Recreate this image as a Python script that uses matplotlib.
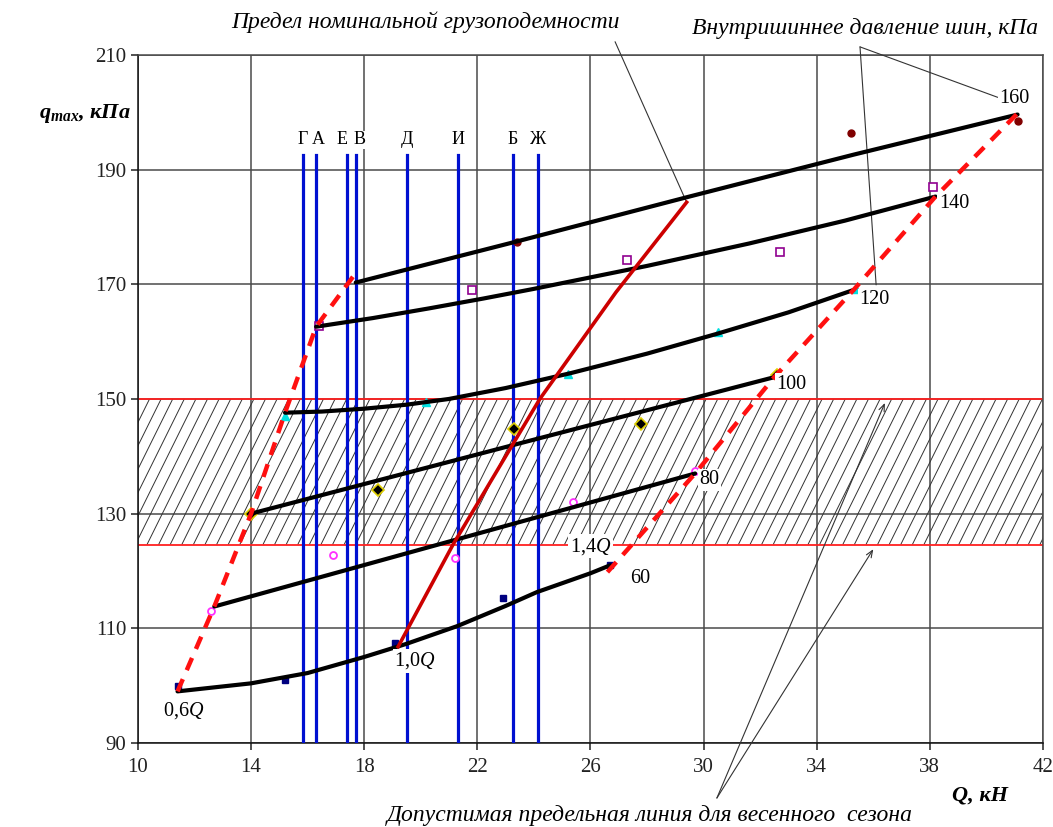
import numpy as np
import matplotlib
matplotlib.use("Agg")
import matplotlib.pyplot as plt
from matplotlib.collections import LineCollection
from matplotlib.patches import Rectangle

plt.rcParams["font.family"] = ["Liberation Serif", "DejaVu Serif"]
plt.rcParams["mathtext.fontset"] = "custom"
plt.rcParams["mathtext.rm"] = "Liberation Serif"
plt.rcParams["mathtext.it"] = "Liberation Serif:italic"
plt.rcParams["mathtext.bfit"] = "Liberation Serif:italic:bold"

# tire pressure curves, kPa -> (Q, q_max)
curve_60_x = [11.4, 14.0, 16.0, 18.0, 19.5, 21.3, 23.0, 24.1, 26.0, 26.7]
curve_60_y = [99.0, 100.4, 102.2, 105.0, 107.3, 110.4, 113.9, 116.3, 119.6, 121.0]
curve_80_x = [12.7, 21.2, 29.7]
curve_80_y = [113.8, 125.4, 137.0]
curve_100_x = [14.0, 23.3, 32.5]
curve_100_y = [130.0, 142.0, 153.8]
curve_120_x = [15.2, 16.5, 18.0, 19.5, 21.0, 23.0, 25.3, 28.0, 30.5, 33.0, 35.3]
curve_120_y = [147.6, 147.8, 148.3, 149.0, 150.0, 151.9, 154.5, 157.9, 161.4, 165.1, 169.0]
curve_140_x = [16.3, 18.3, 20.3, 22.2, 24.0, 26.0, 28.0, 31.6, 35.0, 38.2]
curve_140_y = [162.6, 164.1, 165.8, 167.5, 169.2, 171.2, 173.2, 177.1, 181.1, 185.3]
curve_160_x = [17.7, 23.5, 29.5, 35.3, 41.1]
curve_160_y = [170.3, 177.6, 185.3, 192.6, 199.6]

# measured points
pts_60_x = [11.4, 15.2, 19.1, 22.9, 26.7]
pts_60_y = [99.9, 101.0, 107.5, 115.2, 121.0]
pts_80_x = [12.6, 16.9, 21.2, 25.4, 29.7]
pts_80_y = [113.0, 122.8, 122.2, 132.0, 137.4]
pts_100_x = [14.0, 18.5, 23.3, 27.8, 32.6]
pts_100_y = [130.0, 134.2, 144.8, 145.6, 154.2]
pts_120_x = [15.2, 20.2, 25.2, 30.5, 35.4]
pts_120_y = [147.0, 149.4, 154.4, 161.6, 169.2]
pts_140_x = [16.4, 21.8, 27.3, 32.7, 38.1]
pts_140_y = [162.8, 169.0, 174.3, 175.6, 186.9]
pts_160_x = [23.4, 35.2, 41.1]
pts_160_y = [177.3, 196.3, 198.4]

# load limits
limit_06_x = [11.4, 12.7, 14.0, 15.2, 16.3, 17.6]
limit_06_y = [99.0, 113.8, 130.0, 147.6, 162.6, 171.3]
limit_14_x = [26.6, 29.7, 32.5, 35.3, 38.2, 41.1]
limit_14_y = [119.8, 137.0, 153.8, 169.0, 185.3, 199.8]
limit_10_x = [19.2, 21.14, 24.21, 26.9, 29.4]
limit_10_y = [106.8, 124.6, 150.0, 168.6, 184.3]

# spring season band
band_low = 124.6
band_high = 150.0

# vehicles
veh_x = [15.83, 16.29, 17.39, 17.70, 19.51, 21.32, 23.26, 24.14]
veh_labels = ["Г", "А", "Е", "В", "Д", "И", "Б", "Ж"]
veh_label_shift = [0.0, 0.1, -0.17, 0.14, 0.0, 0.0, 0.0, 0.0]
veh_top = 192.5

pressure_labels = ["60", "80", "100", "120", "140", "160"]
pressure_pos = [(27.75, 118.6), (30.2, 135.9), (33.1, 152.6), (36.05, 167.3), (38.85, 184.1), (41.0, 202.4)]

fig = plt.figure(figsize=(10.53, 8.27), dpi=100)
ax = fig.add_axes([0.131, 0.1016, 0.8595, 0.832])
ax.set_xlim(10, 42)
ax.set_ylim(90, 210)
ax.set_xticks(np.arange(10, 43, 4))
ax.set_yticks(np.arange(90, 211, 20))
ax.grid(True, color="#4a4a4a", lw=1.1, zorder=0)
ax.set_axisbelow(True)
ax.tick_params(direction="out", length=5, width=1.1, labelsize=15, colors="#222")
ax.tick_params(axis="x", pad=6)
for s in ax.spines.values():
    s.set_color("#4a4a4a")
    s.set_linewidth(1.1)
ax.spines["left"].set_color("#111")
ax.spines["bottom"].set_color("#111")

# hatched band
clip = Rectangle((10, band_low), 32, band_high - band_low, transform=ax.transData)
dx = 2.55
segs = [[(x0, band_low), (x0 + dx, band_high)] for x0 in np.arange(10 - dx, 42.5, 0.41)]
lc = LineCollection(segs, colors="#333", linewidths=0.7, zorder=1)
ax.add_collection(lc)
lc.set_clip_path(clip)
ax.axhline(band_low, color="#ff2020", lw=1.3, zorder=2)
ax.axhline(band_high, color="#ff2020", lw=1.3, zorder=2)

# vehicles
for x, lab, sh in zip(veh_x, veh_labels, veh_label_shift):
    ax.plot([x, x], [90, veh_top], color="#0010d0", lw=2.3, zorder=3)
    ax.text(x + sh, veh_top + 2.7, lab, ha="center", va="center", fontsize=13,
            zorder=6, bbox=dict(fc="white", ec="none", pad=0.5))

# markers
ax.plot(pts_60_x, pts_60_y, "s", color="#000080", ms=5, zorder=4)
ax.plot(pts_80_x, pts_80_y, "o", mfc="white", mec="#ff30ff", mew=1.3, ms=5, zorder=4)
ax.plot(pts_100_x, pts_100_y, "D", mfc="black", mec="#e0d000", mew=1.2, ms=6.5, zorder=4)
ax.plot(pts_120_x, pts_120_y, "^", color="#00e0e0", ms=6, zorder=4)
ax.plot(pts_140_x, pts_140_y, "s", mfc="white", mec="#900090", mew=1.2, ms=6, zorder=4)
ax.plot(pts_160_x, pts_160_y, "o", color="#800000", ms=5, zorder=4)

# pressure curves
for cx, cy in [(curve_60_x, curve_60_y), (curve_80_x, curve_80_y), (curve_100_x, curve_100_y),
               (curve_120_x, curve_120_y), (curve_140_x, curve_140_y), (curve_160_x, curve_160_y)]:
    ax.plot(cx, cy, color="black", lw=3.0, solid_capstyle="round", solid_joinstyle="round",
            zorder=5)

# limits
ax.plot(limit_06_x, limit_06_y, color="#ff1010", lw=3.2, ls=(0, (3, 2.2)), zorder=5)
ax.plot(limit_14_x, limit_14_y, color="#ff1010", lw=3.2, ls=(0, (3, 2.2)), zorder=5)
ax.plot(limit_10_x, limit_10_y, color="#cc0000", lw=2.6, zorder=5)

# labels on curves
for lab, (x, y) in zip(pressure_labels, pressure_pos):
    ax.text(x, y, lab, ha="center", va="center", fontsize=14.5, zorder=7,
            bbox=dict(fc="white", ec="none", pad=1.0))
ax.text(11.6, 95.6, r"0,6$Q$", ha="center", va="center", fontsize=14.5, zorder=7)
ax.text(19.8, 104.3, r"1,0$Q$", ha="center", va="center", fontsize=14.5, zorder=7,
        bbox=dict(fc="white", ec="none", pad=1.0))
ax.text(26.0, 124.3, r"1,4$Q$", ha="center", va="center", fontsize=14.5, zorder=7,
        bbox=dict(fc="white", ec="none", pad=1.0))

# annotations
line_kw = dict(arrowstyle="-", lw=0.8, color="#333", shrinkA=0, shrinkB=0)
ax.annotate("", xy=(29.4, 184.3), xytext=(26.87, 212.3), arrowprops=line_kw,
            annotation_clip=False)
ax.annotate("", xy=(40.4, 202.6), xytext=(35.53, 211.4), arrowprops=line_kw,
            annotation_clip=False)
ax.annotate("", xy=(36.1, 169.9), xytext=(35.53, 211.4), arrowprops=line_kw,
            annotation_clip=False)
arr_kw = dict(arrowstyle="->,head_length=0.5,head_width=0.2", lw=0.8, color="#333",
              shrinkA=0, shrinkB=0)
ax.annotate("", xy=(36.41, 149.3), xytext=(30.47, 80.4), arrowprops=arr_kw,
            annotation_clip=False)
ax.annotate("", xy=(36.0, 123.8), xytext=(30.47, 80.4), arrowprops=arr_kw,
            annotation_clip=False)

fig.text(0.4036, 0.973, "Предел номинальной грузоподемности", ha="center", va="center",
         fontsize=17, style="italic")
fig.text(0.8215, 0.966, "Внутришиннее давление шин, кПа", ha="center", va="center",
         fontsize=17, style="italic")
fig.text(0.617, 0.0145, "Допустимая предельная линия для весенного  сезона", ha="center",
         va="center", fontsize=17, style="italic")
fig.text(0.931, 0.0375, "Q, кН", ha="center", va="center", fontsize=16,
         style="italic", weight="bold")
fig.text(0.081, 0.863, r"$\mathbfit{q}_{\mathbfit{max}}$, кПа", ha="center", va="center",
         fontsize=16, style="italic", weight="bold")

fig.savefig("out.png", dpi=100)
